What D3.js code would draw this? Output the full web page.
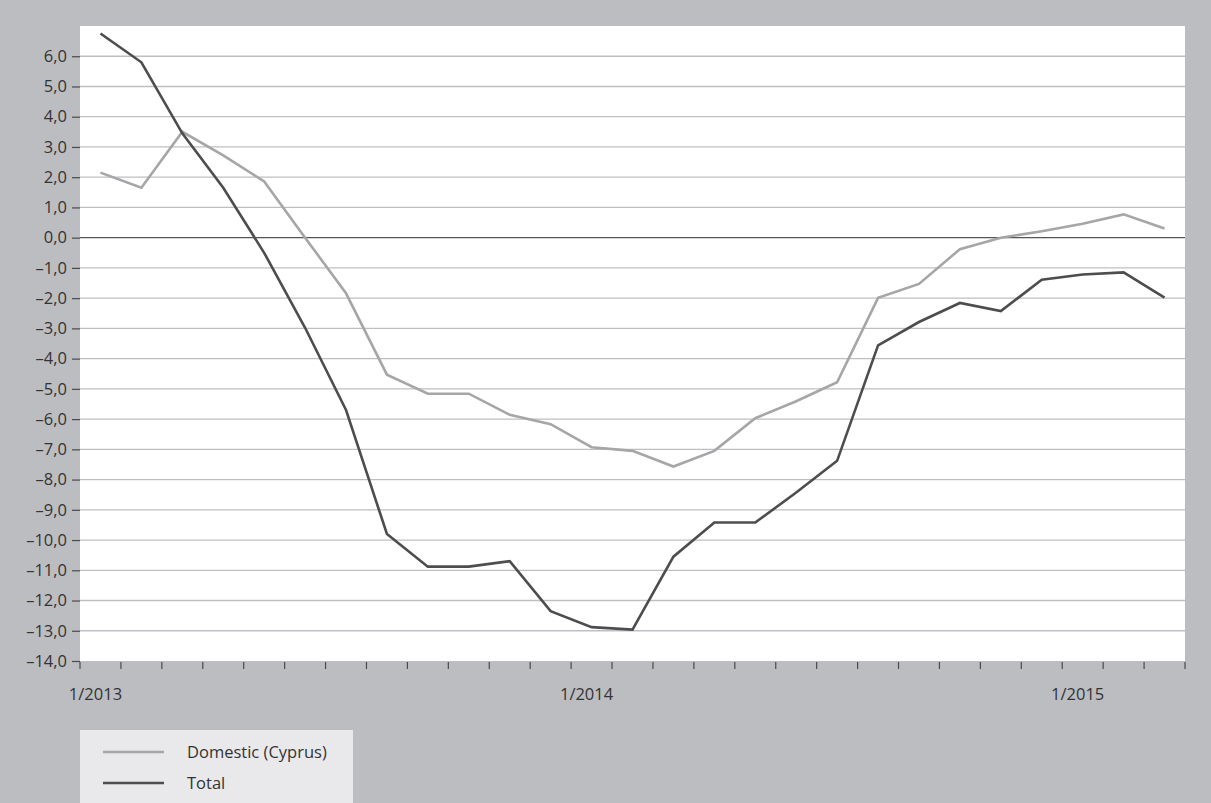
<!DOCTYPE html>
<html>
<head>
<meta charset="utf-8">
<script src="https://cdn.jsdelivr.net/npm/d3@7"></script>
<style>
  html, body { margin: 0; padding: 0; background: #bcbdc1; }
  svg { display: block; }
  text { font-family: "Open Sans", "Noto Sans", sans-serif; fill: #333333; }
</style>
</head>
<body>
<svg id="chart" width="1211" height="803"></svg>
<script>
const months = [
  "1/2013","2/2013","3/2013","4/2013","5/2013","6/2013","7/2013","8/2013","9/2013","10/2013","11/2013","12/2013",
  "1/2014","2/2014","3/2014","4/2014","5/2014","6/2014","7/2014","8/2014","9/2014","10/2014","11/2014","12/2014",
  "1/2015","2/2015","3/2015"
];
const xTickLabels = ["1/2013", "1/2014", "1/2015"];
const domestic = [2.15, 1.65, 3.5, 2.72, 1.86, 0.0, -1.84, -4.53, -5.16, -5.16, -5.86, -6.17, -6.93, -7.05, -7.57, -7.05,
  -5.97, -5.41, -4.78, -1.99, -1.53, -0.38, 0.0, 0.21, 0.46, 0.77, 0.3];
const total = [6.75, 5.8, 3.45, 1.65, -0.5, -2.98, -5.7, -9.8, -10.88, -10.88, -10.7, -12.35, -12.88, -12.96, -10.55, -9.42,
  -9.42, -8.43, -7.38, -3.56, -2.79, -2.16, -2.43, -1.39, -1.22, -1.15, -1.98];
const yTicks = d3.range(-14, 7, 1);
const seriesNames = ["Domestic (Cyprus)", "Total"];
const seriesColors = ["#a6a6a8", "#4d4d4f"];

const svg = d3.select("#chart");
const plot = { left: 80, right: 1185, top: 26, bottom: 661 };

const x = d3.scaleBand().domain(months).range([plot.left, plot.right]).padding(0);
const y = d3.scaleLinear().domain([-14, 7]).range([plot.bottom, plot.top]);

// plot background
svg.append("rect")
  .attr("x", plot.left).attr("y", plot.top)
  .attr("width", plot.right - plot.left).attr("height", plot.bottom - plot.top)
  .attr("fill", "#ffffff");

// gridlines
svg.append("g").selectAll("line")
  .data(yTicks.filter(d => d !== 0 && d !== -14))
  .join("line")
  .attr("x1", plot.left).attr("x2", plot.right)
  .attr("y1", d => y(d)).attr("y2", d => y(d))
  .attr("stroke", "#bfbfc3").attr("stroke-width", 1.3);

// y axis
const fmt = d => (d < 0 ? "\u2013" : "") + Math.abs(d).toFixed(1).replace(".", ",");
const yAxis = svg.append("g")
  .attr("transform", `translate(${plot.left},0)`)
  .call(d3.axisLeft(y).tickValues(yTicks).tickFormat(fmt).tickSize(8).tickPadding(5));
yAxis.select(".domain").remove();
yAxis.selectAll(".tick line").attr("stroke", "#4a4a4a").attr("stroke-width", 1.2);
yAxis.selectAll("text").style("font-size", "16.5px").attr("fill", "#333333");

// x axis ticks at category boundaries
const boundaries = months.map(m => x(m)).concat([x(months[months.length - 1]) + x.bandwidth()]);
svg.append("g").selectAll("line")
  .data(boundaries)
  .join("line")
  .attr("x1", d => d).attr("x2", d => d)
  .attr("y1", plot.bottom + 1).attr("y2", plot.bottom + 8)
  .attr("stroke", "#4a4a4a").attr("stroke-width", 1.2);

svg.append("g").selectAll("text")
  .data(xTickLabels)
  .join("text")
  .attr("x", d => x(d) + x.bandwidth() / 2 - 5)
  .attr("y", plot.bottom + 39)
  .attr("text-anchor", "middle")
  .style("font-size", "16.5px")
  .text(d => d);

// zero line
svg.append("line")
  .attr("x1", plot.left).attr("x2", plot.right)
  .attr("y1", y(0)).attr("y2", y(0))
  .attr("stroke", "#555558").attr("stroke-width", 1.3);

// lines
const line = d3.line()
  .x((d, i) => x(months[i]) + x.bandwidth() / 2)
  .y(d => y(d));

[domestic, total].forEach((s, k) => {
  svg.append("path")
    .datum(s)
    .attr("fill", "none")
    .attr("stroke", seriesColors[k])
    .attr("stroke-width", 2.6)
    .attr("stroke-linejoin", "miter")
    .attr("d", line);
});

// legend
const lg = svg.append("g");
lg.append("rect")
  .attr("x", 80).attr("y", 730).attr("width", 273).attr("height", 73)
  .attr("fill", "#e9e9eb");
seriesNames.forEach((name, k) => {
  const yy = 752 + k * 31;
  lg.append("line")
    .attr("x1", 103).attr("x2", 164).attr("y1", yy).attr("y2", yy)
    .attr("stroke", seriesColors[k]).attr("stroke-width", 2.6);
  lg.append("text")
    .attr("x", 187).attr("y", yy + 6)
    .style("font-size", "16.5px")
    .text(name);
});
</script>
</body>
</html>
